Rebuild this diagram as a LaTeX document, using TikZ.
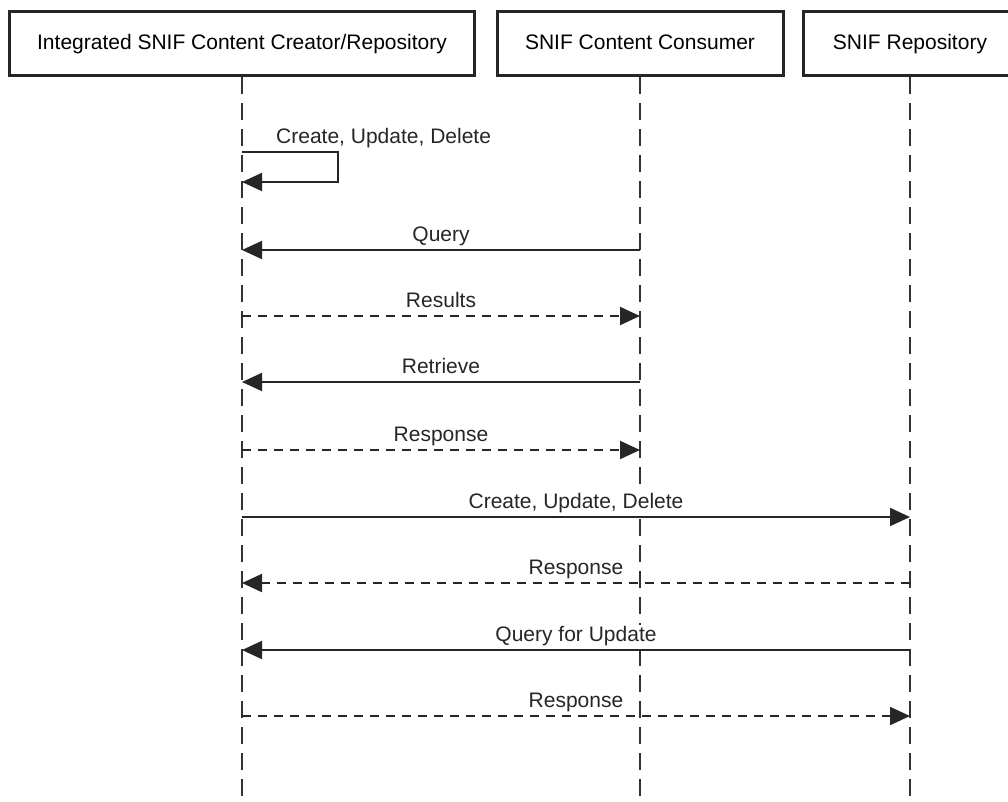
\documentclass[tikz,border=0pt]{standalone}
\usepackage{fontspec}
\setmainfont{Liberation Sans}
\usetikzlibrary{arrows.meta}
\begin{document}
\begin{tikzpicture}[x=1pt,y=-1pt,
  font=\fontsize{21}{25}\selectfont,
  actor/.style={draw=black!85, line width=3pt, fill=white, minimum height=64pt, text height=15pt, text depth=4pt, inner sep=0pt, anchor=north},
  lifeline/.style={draw=black!80, line width=2pt, dash pattern=on 17pt off 9pt},
  msg/.style={draw=black!85, line width=2pt, -{Triangle[length=20pt,width=18pt]}},
  reply/.style={msg, dash pattern=on 9pt off 7pt},
  lbl/.style={anchor=base, inner xsep=1pt, inner ysep=0.5pt, fill=white, text=black!85}]
\clip (0,0) rectangle (1008,801);
\fill[white] (0,0) rectangle (1008,801);
% lifelines
\coordinate (Abot) at (242,801);
\coordinate (Bbot) at (640,801);
\coordinate (Cbot) at (910,801);
\node[actor, minimum width=465pt] (A) at (242,10) {Integrated SNIF Content Creator/Repository};
\node[actor, minimum width=286pt] (B) at (640,10) {SNIF Content Consumer};
\node[actor, minimum width=214pt] (C) at (910,10) {SNIF Repository};
\draw[lifeline] (A.south) -- (Abot);
\draw[lifeline] (B.south) -- (Bbot);
\draw[lifeline] (C.south) -- (Cbot);
% message anchor points
\coordinate (s1) at (242,152); \coordinate (s2) at (338,152);
\coordinate (s3) at (338,182); \coordinate (s4) at (242,182);
\foreach \n/\y in {1/250,2/316,3/382,4/450,5/517,6/583,7/650,8/716}{
  \coordinate (a\n) at (242,\y);
  \coordinate (b\n) at (640,\y);
  \coordinate (c\n) at (910,\y);
}
% self message
\draw[msg] (s1) -- (s2) -- (s3) -- (s4);
\node[lbl, anchor=base west] (l0) at ([xshift=33pt,yshift=9pt]s1) {Create, Update, Delete};
% messages
\draw[msg] (b1) -- node[lbl, yshift=9pt] (l1) {Query} (a1);
\draw[reply] (a2) -- node[lbl, yshift=9pt] (l2) {Results} (b2);
\draw[msg] (b3) -- node[lbl, yshift=9pt] (l3) {Retrieve} (a3);
\draw[reply] (a4) -- node[lbl, yshift=9pt] (l4) {Response} (b4);
\draw[msg] (a5) -- node[lbl, yshift=9pt] (l5) {Create, Update, Delete} (c5);
\draw[reply] (c6) -- node[lbl, yshift=9pt] (l6) {Response} (a6);
\draw[msg] (c7) -- node[lbl, yshift=9pt] (l7) {Query for Update} (a7);
\draw[reply] (a8) -- node[lbl, yshift=9pt] (l8) {Response} (c8);
\end{tikzpicture}
\end{document}
